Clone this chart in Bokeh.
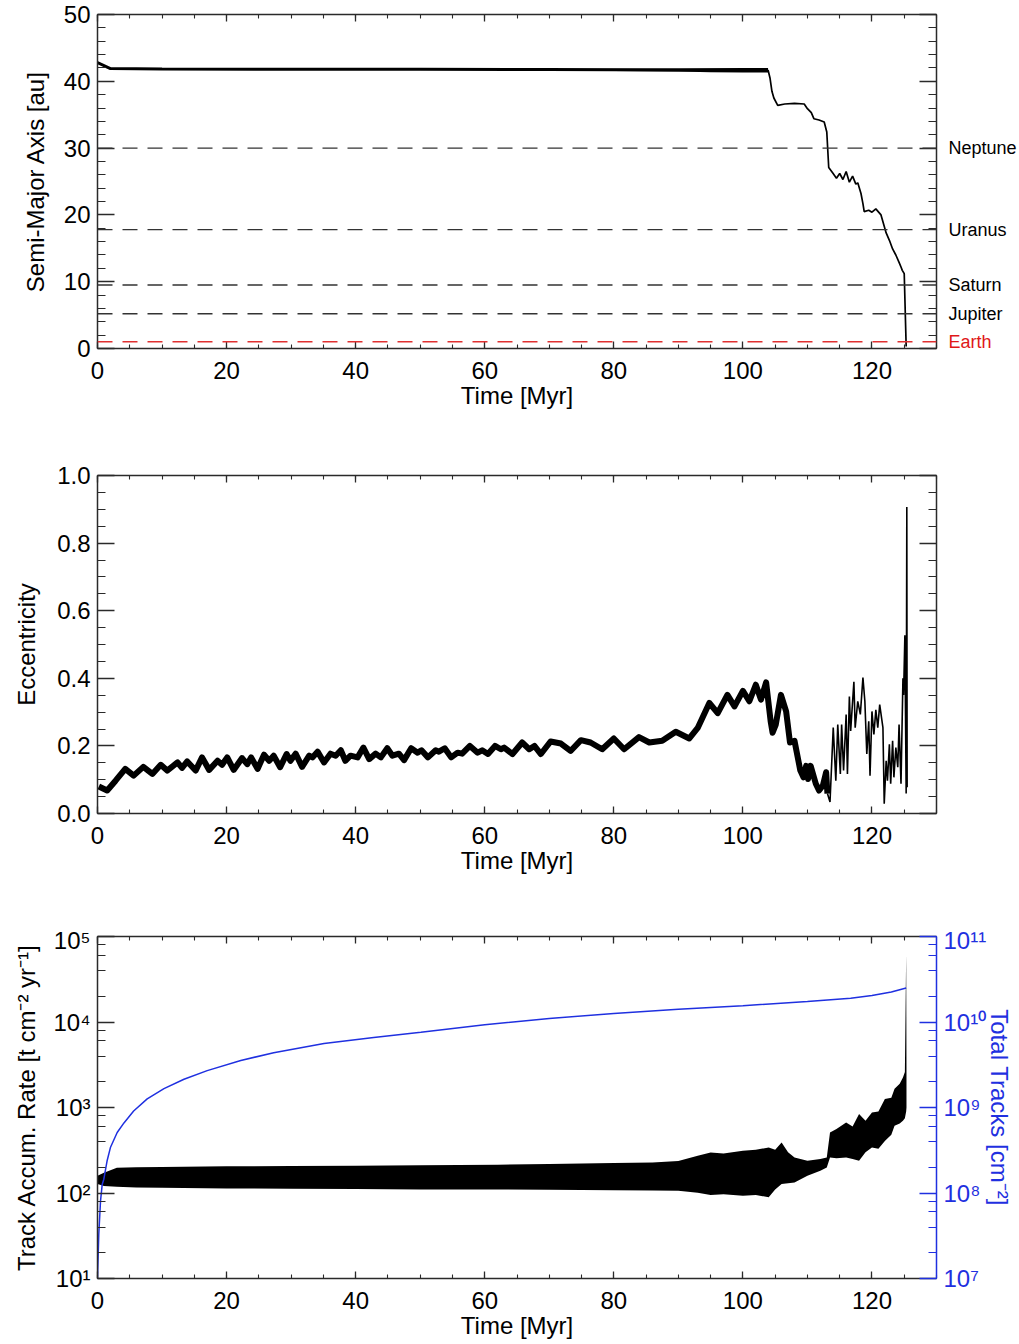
from bokeh.plotting import figure
from bokeh.layouts import column, row
from bokeh.models import (Range1d, LinearAxis, LogAxis, SingleIntervalTicker, LogTicker,
                          CustomJSTickFormatter, NumeralTickFormatter, Span, LogScale,
                          ColumnDataSource)
from bokeh.core.properties import value
from bokeh.embed import file_html
from bokeh.resources import INLINE

FONT = "Liberation Sans"
AXC = "#2a2a2a"
BLUE = "#1f30e0"

# ---------------- data ----------------
planet_names = ["Neptune", "Uranus", "Saturn", "Jupiter", "Earth"]
planet_a = [30.0, 17.8, 9.5, 5.2, 1.0]
planet_colors = ["black", "black", "black", "black", "#e01818"]
planet_line_colors = ["#333333", "#333333", "#333333", "#333333", "#e03030"]

sma_t = [0, 2.0, 10, 30, 50, 70, 90, 100, 103.9, 104.2, 104.5, 104.8, 105.4, 106.5, 108,
         109.5, 110.0, 110.6, 111.0, 111.8, 112.6, 113.0, 113.3, 113.9, 114.5, 115.0, 115.5,
         116.0, 116.5, 117.0, 117.5, 117.8, 118.3, 118.6, 118.8, 119.5, 120.0, 120.6, 121.4,
         122.2, 122.7, 123.2, 123.7, 124.2, 124.5, 124.7, 125.0, 125.3]
sma_a = [42.8, 41.9, 41.85, 41.8, 41.8, 41.75, 41.7, 41.7, 41.7, 40.5, 38.5, 37.5, 36.4, 36.6, 36.7,
         36.6, 35.9, 35.3, 34.4, 34.2, 33.9, 32.4, 27.1, 26.3, 25.5, 26.2, 25.3,
         26.5, 24.9, 25.8, 24.6, 24.8, 23.2, 21.7, 20.5, 20.7, 20.4, 20.9, 20.0,
         17.3, 16.2, 14.9, 14.0, 12.9, 12.2, 11.7, 11.2, 0.3]
sma_band_t = [70, 80, 90, 95, 100, 103.9]
sma_band_lo = [41.65, 41.55, 41.45, 41.35, 41.3, 41.3]
sma_band_hi = [41.85, 41.88, 41.9, 41.95, 42.0, 42.0]

ecc_t = [0.2, 1.5, 2.8, 4.3, 5.6, 7.1, 8.5, 9.8, 10.8, 12.4, 13.1, 13.9, 15.2, 16.2, 17.3, 18.6,
         19.3, 20.1, 21.1, 22.4, 23.2, 23.8, 24.8, 25.8, 26.6, 27.3, 28.3, 29.3, 29.9, 30.7, 31.7,
         32.8, 33.3, 34.1, 35.1, 36.1, 36.9, 37.7, 38.4, 39.2, 40.3, 41.2, 42.1, 43.1, 43.9, 44.9,
         45.7, 46.7, 47.5, 48.6, 49.6, 50.2, 51.2, 52.4, 52.9, 53.8, 54.8, 55.8, 56.5, 57.7, 58.9,
         59.6, 60.5, 61.6, 62.5, 63.0, 64.3, 65.8, 66.9, 67.7, 68.7, 70.2, 71.8, 73.3, 74.9, 76.4,
         78.2, 80.0, 81.6, 83.9, 85.5, 87.5, 89.6, 91.7, 93.0, 94.8, 96.1, 97.6, 98.7, 100.0, 101.0,
         102.0, 102.8, 103.6, 104.3, 104.6, 105.1, 105.9, 106.7, 107.3, 108.0, 108.9, 109.4, 109.8,
         110.1, 110.5, 111.3, 111.8, 112.4, 112.9, 113.1]
ecc_v = [0.08, 0.068, 0.097, 0.132, 0.112, 0.138, 0.117, 0.144, 0.127, 0.151, 0.135, 0.154, 0.127,
         0.166, 0.129, 0.156, 0.144, 0.166, 0.129, 0.164, 0.146, 0.166, 0.132, 0.174, 0.156, 0.171,
         0.137, 0.176, 0.156, 0.177, 0.138, 0.171, 0.166, 0.183, 0.151, 0.177, 0.171, 0.187, 0.156,
         0.171, 0.166, 0.195, 0.161, 0.177, 0.166, 0.193, 0.171, 0.177, 0.158, 0.193, 0.180, 0.187,
         0.166, 0.187, 0.183, 0.193, 0.166, 0.180, 0.177, 0.200, 0.180, 0.187, 0.176, 0.200, 0.190,
         0.195, 0.176, 0.210, 0.190, 0.200, 0.176, 0.213, 0.207, 0.185, 0.217, 0.210, 0.190, 0.222,
         0.190, 0.226, 0.210, 0.215, 0.242, 0.222, 0.253, 0.327, 0.297, 0.351, 0.317, 0.363, 0.332,
         0.381, 0.337, 0.388, 0.273, 0.239, 0.263, 0.351, 0.302, 0.210, 0.215, 0.127, 0.107, 0.141,
         0.102, 0.141, 0.088, 0.068, 0.083, 0.122, 0.059]
ecc_late_t = [113.1, 113.5, 114.0, 114.4, 114.7, 115.1, 115.3, 115.6, 116.0, 116.2, 116.5, 116.7,
              117.2, 117.4, 117.8, 118.2, 118.6, 118.9, 119.2, 119.5, 119.7, 120.0, 120.3, 120.6,
              120.9, 121.2, 121.7, 121.9, 122.2, 122.4, 122.7, 122.9, 123.2, 123.4, 123.7, 124.0,
              124.2, 124.5, 124.8, 124.9, 125.1, 125.3, 125.4, 125.45]
ecc_late_v = [0.059, 0.034, 0.254, 0.097, 0.263, 0.117, 0.263, 0.127, 0.293, 0.117, 0.346, 0.244,
              0.390, 0.254, 0.332, 0.293, 0.402, 0.332, 0.176, 0.273, 0.112, 0.302, 0.234, 0.307,
              0.254, 0.322, 0.254, 0.029, 0.156, 0.097, 0.205, 0.088, 0.215, 0.107, 0.195, 0.137,
              0.263, 0.088, 0.400, 0.351, 0.527, 0.059, 0.907, 0.078]

rate_t = [0, 1, 3, 6, 10, 20, 30, 40, 50, 62, 70, 80, 86, 90, 93, 95, 97, 100, 102, 104, 105, 106,
          107, 108, 110, 112, 113, 113.5, 114.5, 116, 117, 118, 119, 120, 121, 122, 123, 123.5,
          124.3, 124.8, 125.1, 125.3, 125.35]
rate_hi = [159, 172, 198, 200, 202, 205, 207, 209, 211, 214, 218, 224, 228, 236, 272, 298, 290, 312,
           320, 341, 320, 390, 300, 260, 238, 249, 260, 510, 560, 668, 600, 837, 700, 874, 900, 1260,
           1300, 1655, 1900, 2244, 2600, 62000, 3000]
rate_lo = [127, 121, 118, 116, 115, 113, 112, 111, 110, 110, 109, 108, 107, 106, 101, 95, 97, 93,
           95, 89, 110, 127, 130, 133, 159, 182, 199, 260, 255, 260, 250, 238, 300, 341, 330, 407,
           480, 611, 650, 699, 750, 900, 1000]

tracks_t = [0.0, 0.2, 0.47, 0.73, 0.98, 1.5, 2.0, 3.05, 4.1, 5.6, 7.7, 10.3, 13.4, 17.0, 22.2, 27.3,
            35.1, 42.8, 50.1, 60, 70, 80, 90, 100, 110, 116.7, 120, 123, 125.3]
tracks_v = [1.0e7, 3.3e7, 8.1e7, 1.26e8, 1.45e8, 2.4e8, 3.4e8, 5.1e8, 6.6e8, 9.1e8, 1.26e9, 1.66e9,
            2.14e9, 2.7e9, 3.55e9, 4.37e9, 5.6e9, 6.6e9, 7.6e9, 9.3e9, 1.1e10, 1.26e10, 1.41e10,
            1.55e10, 1.74e10, 1.9e10, 2.04e10, 2.24e10, 2.5e10]

# ---------------- helpers ----------------
SUP_JS = """
const sup = ["\u2070","\u00b9","\u00b2","\u00b3","\u2074","\u2075","\u2076","\u2077","\u2078","\u2079"];
const e = Math.round(Math.log10(tick));
return "10" + String(e).split("").map(c => sup[+c]).join("");
"""
EMPTY_JS = "return '';"


def style_axis(ax, tmaj, tmin, color=AXC, label_standoff=7, title_standoff=0):
    ax.major_tick_in = tmaj
    ax.major_tick_out = 0
    ax.minor_tick_in = tmin
    ax.minor_tick_out = 0
    ax.axis_line_color = color
    ax.axis_line_width = 1.5
    ax.major_tick_line_color = color
    ax.minor_tick_line_color = color
    ax.major_tick_line_width = 1.3
    ax.minor_tick_line_width = 1.1
    ax.major_label_text_font = FONT
    ax.major_label_text_font_size = "24px"
    ax.major_label_text_color = color if color != AXC else "black"
    ax.major_label_standoff = label_standoff
    ax.axis_label_text_font = FONT
    ax.axis_label_text_font_size = "24px"
    ax.axis_label_text_font_style = "normal"
    ax.axis_label_text_color = color if color != AXC else "black"
    ax.axis_label_standoff = title_standoff


def make_fig(width, height, btop, bbot, bright, y_range, ylog=False):
    p = figure(width=width, height=height, x_range=Range1d(0, 130), y_range=y_range,
               y_axis_type="log" if ylog else "linear",
               output_backend="svg", toolbar_location=None,
               min_border_left=97, min_border_right=bright, min_border_top=btop,
               min_border_bottom=bbot)
    p.grid.visible = False
    p.outline_line_color = None
    p.background_fill_color = "white"
    p.border_fill_color = "white"
    xa = p.xaxis[0]
    xa.ticker = SingleIntervalTicker(interval=20, num_minor_ticks=4)
    xa.axis_label = "Time [Myr]"
    style_axis(xa, 7, 4, label_standoff=13, title_standoff=0)
    top = LinearAxis(ticker=SingleIntervalTicker(interval=20, num_minor_ticks=4),
                     formatter=CustomJSTickFormatter(code=EMPTY_JS))
    style_axis(top, 7, 4, label_standoff=0)
    top.major_label_text_font_size = "1px"
    p.add_layout(top, "above")
    return p


# ---------------- panel 1 ----------------
sma_range = Range1d(0, 50)
p1 = make_fig(944, 462, 14, 114, 8, sma_range)
ya = p1.yaxis[0]
ya.ticker = SingleIntervalTicker(interval=10, num_minor_ticks=5)
ya.axis_label = "Semi-Major Axis [au]"
style_axis(ya, 17, 8, label_standoff=7, title_standoff=12)
r1 = LinearAxis(ticker=SingleIntervalTicker(interval=10, num_minor_ticks=5),
                formatter=CustomJSTickFormatter(code=EMPTY_JS))
style_axis(r1, 17, 8, label_standoff=0)
r1.major_label_text_font_size = "1px"
p1.add_layout(r1, "right")

for a, c in zip(planet_a, planet_line_colors):
    p1.add_layout(Span(location=a, dimension="width", line_color=c, line_width=1.4,
                       line_dash="15 10"))

p1.varea(x=sma_band_t, y1=sma_band_lo, y2=sma_band_hi, color="black")
p1.line(sma_t[:9], sma_a[:9], color="black", line_width=3)
p1.line(sma_t[8:], sma_a[8:], color="black", line_width=1.7)

# planet names in a narrow companion figure sharing the y range
pn = figure(width=75, height=462, x_range=Range1d(0, 1), y_range=sma_range,
            output_backend="svg", toolbar_location=None,
            min_border_left=0, min_border_right=0, min_border_top=14, min_border_bottom=114)
pn.axis.visible = False
pn.grid.visible = False
pn.outline_line_color = None
pn.border_fill_color = "white"
src = ColumnDataSource(dict(x=[0] * len(planet_names), y=planet_a, name=planet_names,
                            color=planet_colors))
pn.text(x="x", y="y", text="name", source=src, x_offset=4, text_color="color",
        text_font=value(FONT), text_font_size="18px", text_baseline="middle",
        text_align="left")

# ---------------- panel 2 ----------------
p2 = make_fig(1019, 464, 13, 113, 83, Range1d(0, 1.0))
ya = p2.yaxis[0]
ya.ticker = SingleIntervalTicker(interval=0.2, num_minor_ticks=4)
ya.formatter = NumeralTickFormatter(format="0.0")
ya.axis_label = "Eccentricity"
style_axis(ya, 17, 8, label_standoff=7, title_standoff=14)
r2 = LinearAxis(ticker=SingleIntervalTicker(interval=0.2, num_minor_ticks=4),
                formatter=CustomJSTickFormatter(code=EMPTY_JS))
style_axis(r2, 17, 8, label_standoff=0)
r2.major_label_text_font_size = "1px"
p2.add_layout(r2, "right")

p2.line(ecc_t, ecc_v, color="black", line_width=6, line_join="round")
p2.line(ecc_late_t, ecc_late_v, color="black", line_width=1.6)

# ---------------- panel 3 ----------------
p3 = make_fig(1019, 418, 10, 66, 83, Range1d(10, 1e5), ylog=True)
p3.extra_y_ranges = {"tracks": Range1d(1e7, 1e11)}
p3.extra_y_scales = {"tracks": LogScale()}
ya = p3.yaxis[0]
ya.ticker = LogTicker()
ya.formatter = CustomJSTickFormatter(code=SUP_JS)
ya.axis_label = "Track Accum. Rate [t cm\u207b\u00b2 yr\u207b\u00b9]"
style_axis(ya, 17, 8, label_standoff=7, title_standoff=10)

r3 = LogAxis(y_range_name="tracks", ticker=LogTicker(),
             formatter=CustomJSTickFormatter(code=SUP_JS),
             axis_label="Total Tracks [cm\u207b\u00b2]")
style_axis(r3, 17, 8, color=BLUE, label_standoff=7, title_standoff=-3)
p3.add_layout(r3, "right")

p3.varea(x=rate_t, y1=rate_lo, y2=rate_hi, color="black")
p3.line(tracks_t, tracks_v, y_range_name="tracks", color=BLUE, line_width=1.5)

layout = column(row(p1, pn), p2, p3)
open("out.html", "w").write(file_html(layout, INLINE))
